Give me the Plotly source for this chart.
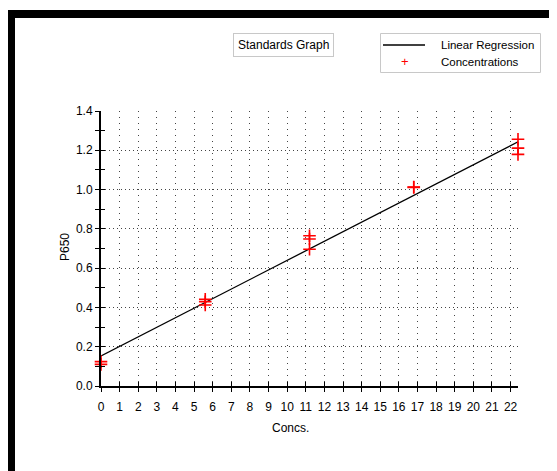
import plotly.graph_objects as go

# ---- data ----
conc_x = [0, 0, 5.6, 5.6, 5.6, 11.2, 11.2, 11.2, 16.8, 16.8, 22.4, 22.4, 22.4]
conc_y = [0.124, 0.110, 0.441, 0.429, 0.412, 0.765, 0.748, 0.696, 1.011, 1.013, 1.256, 1.211, 1.179]
reg_x = [0, 22.4]
reg_y = [0.153, 1.243]
x_ticks = list(range(0, 23))
y_ticks = [0.0, 0.2, 0.4, 0.6, 0.8, 1.0, 1.2, 1.4]
y_tick_labels = [f"{v:.1f}" for v in y_ticks]

OFF = 8  # page body margin
W, H = 557 - OFF, 471 - OFF
# plot area in screen px
SL, SR, ST, SB = 101, 518, 111, 386
L, R, T, B = SL - OFF, SR - OFF, ST - OFF, SB - OFF


def px(x):
    return (x - OFF - L) / (R - L)


def py(y):
    return (B - (y - OFF)) / (B - T)


FONT = "Liberation Sans, Arial, sans-serif"
GRAY = "#c8c8c8"

fig = go.Figure()
fig.add_trace(go.Scatter(
    x=reg_x, y=reg_y, mode="lines", name="Linear Regression",
    line=dict(color="black", width=1.3), hoverinfo="skip", showlegend=False,
    cliponaxis=False))
fig.add_trace(go.Scatter(
    x=conc_x, y=conc_y, mode="markers", name="Concentrations",
    marker=dict(symbol="cross-thin", size=9, line=dict(color="red", width=1.6), color="red"),
    hoverinfo="skip", showlegend=False, cliponaxis=False))
# dummy trace for the overlay axes (inside tick halves)
fig.add_trace(go.Scatter(x=[None], y=[None], xaxis="x2", yaxis="y2",
                         showlegend=False, hoverinfo="skip"))

common = dict(tickfont=dict(family=FONT, size=12, color="black"), zeroline=False)

fig.update_layout(
    width=W, height=H,
    margin=dict(l=L, r=W - R, t=T, b=H - B, pad=0),
    paper_bgcolor="white", plot_bgcolor="white",
    font=dict(family=FONT, size=12, color="black"),
    showlegend=False,
    xaxis=dict(range=[0, 22.4], tickmode="array", tickvals=x_ticks,
               ticktext=[str(v) for v in x_ticks],
               ticks="outside", ticklen=4, tickwidth=1, tickcolor="black",
               showline=True, linecolor="black", linewidth=2,
               showgrid=True, gridcolor="#444444", gridwidth=1, griddash="1px,5px",
               ticklabelstandoff=5, **common),
    yaxis=dict(range=[0, 1.4], tickmode="array", tickvals=y_ticks, ticktext=y_tick_labels,
               ticks="outside", ticklen=4, tickwidth=1, tickcolor="black",
               minor=dict(dtick=0.1, tick0=0, ticks="outside", ticklen=4, tickwidth=1,
                          tickcolor="black", showgrid=False),
               showline=True, linecolor="black", linewidth=2,
               showgrid=True, gridcolor="#444444", gridwidth=1, griddash="1px,3px",
               **common),
    xaxis2=dict(overlaying="x", anchor="y", side="bottom", range=[0, 22.4],
                tickmode="array", tickvals=x_ticks, ticks="inside", ticklen=4,
                tickcolor="black", showticklabels=False, showgrid=False,
                showline=False, zeroline=False),
    yaxis2=dict(overlaying="y", anchor="x", side="left", range=[0, 1.4],
                tickmode="array", tickvals=y_ticks, ticks="inside", ticklen=4,
                tickcolor="black", showticklabels=False, showgrid=False,
                minor=dict(dtick=0.1, tick0=0, ticks="inside", ticklen=4,
                           tickcolor="black", showgrid=False),
                showline=False, zeroline=False),
    shapes=[
        # black window frame
        dict(type="rect", xref="paper", yref="paper",
             x0=px(11), x1=px(553.5), y0=py(14), y1=py(500),
             line=dict(color="black", width=8), fillcolor="rgba(0,0,0,0)", layer="above"),
        # legend box
        dict(type="rect", xref="paper", yref="paper",
             x0=px(380.5), x1=px(540.5), y0=py(33.5), y1=py(72.5),
             line=dict(color=GRAY, width=1), fillcolor="white", layer="above"),
        # legend line sample
        dict(type="line", xref="paper", yref="paper",
             x0=px(383), x1=px(425), y0=py(45), y1=py(45),
             line=dict(color="black", width=1.3), layer="above"),
    ],
    annotations=[
        dict(text="Standards Graph", xref="paper", yref="paper", x=px(283.5), y=py(45),
             xanchor="center", yanchor="middle", showarrow=False,
             font=dict(family=FONT, size=12, color="black"),
             bordercolor=GRAY, borderwidth=1, borderpad=4, bgcolor="white"),
        dict(text="Linear Regression", xref="paper", yref="paper", x=px(439), y=py(45),
             xanchor="left", yanchor="middle", showarrow=False,
             font=dict(family=FONT, size=11.5, color="black")),
        dict(text="+", xref="paper", yref="paper", x=px(405), y=py(62),
             xanchor="center", yanchor="middle", showarrow=False,
             font=dict(family=FONT, size=13, color="red")),
        dict(text="Concentrations", xref="paper", yref="paper", x=px(439), y=py(62),
             xanchor="left", yanchor="middle", showarrow=False,
             font=dict(family=FONT, size=11.5, color="black")),
        dict(text="P650", xref="paper", yref="paper", x=px(65), y=py(247),
             xanchor="center", yanchor="middle", showarrow=False, textangle=-90,
             font=dict(family=FONT, size=12, color="black")),
        dict(text="Concs.", xref="paper", yref="paper", x=px(290), y=py(428),
             xanchor="center", yanchor="middle", showarrow=False,
             font=dict(family=FONT, size=12, color="black")),
    ],
)

fig.write_html("out.html")
